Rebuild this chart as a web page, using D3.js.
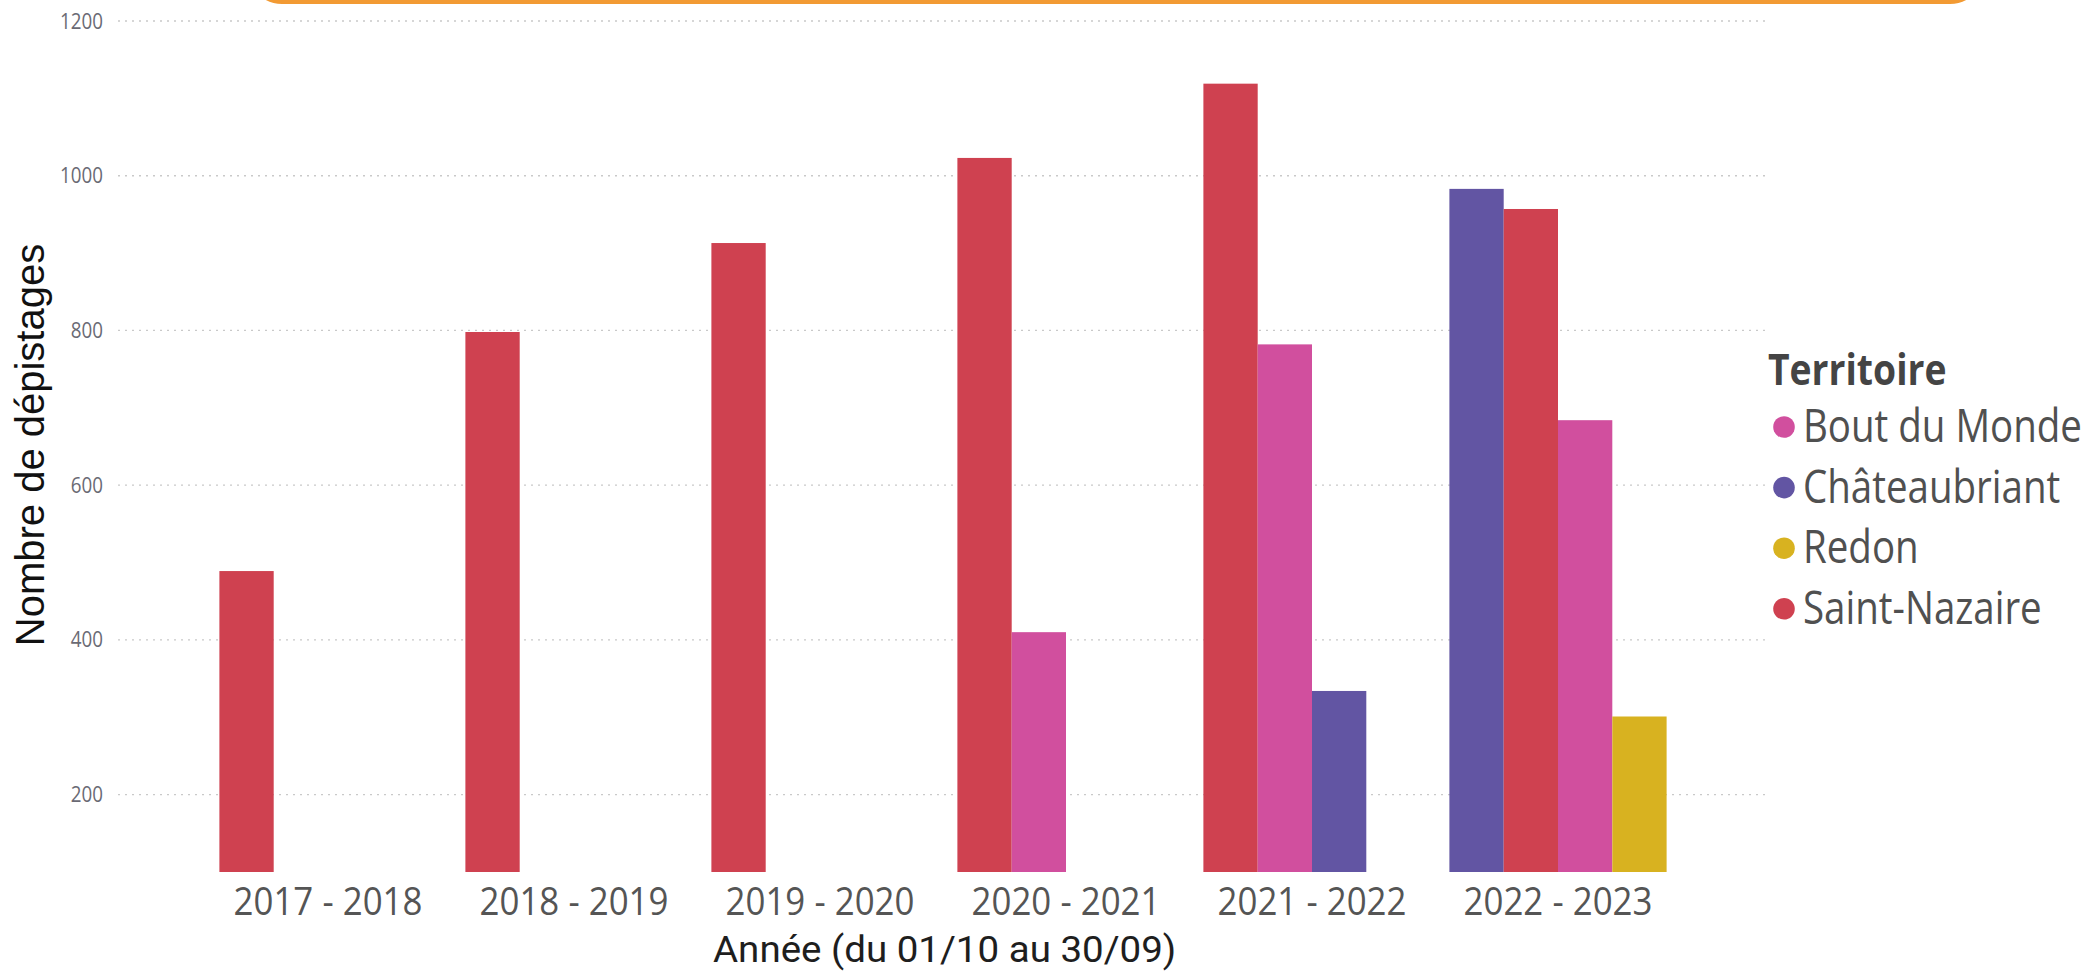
<!DOCTYPE html>
<html>
<head>
<meta charset="utf-8">
<script src="https://cdn.jsdelivr.net/npm/d3@7"></script>
<style>
    html, body { margin: 0; padding: 0; background: #fff; }
    svg { display: block; }
</style>
</head>
<body>
<svg id="chart" width="2090" height="971"></svg>
<script>
/* global d3 */

var categories = ["2017 - 2018", "2018 - 2019", "2019 - 2020", "2020 - 2021", "2021 - 2022", "2022 - 2023"];
var territories = ["Bout du Monde", "Châteaubriant", "Redon", "Saint-Nazaire"];

// nombre de dépistages par territoire (null = pas de données)
var boutDuMonde = [null, null, null, 410, 782, 684];
var chateaubriant = [null, null, null, null, 334, 983];
var redon = [null, null, null, null, null, 301];
var saintNazaire = [489, 798, 913, 1023, 1119, 957];

var yTicks = [200, 400, 600, 800, 1000, 1200];

var colors = {
    "Bout du Monde": "#d14f9e",
    "Châteaubriant": "#6255a3",
    "Redon": "#d8b220",
    "Saint-Nazaire": "#cf4150"
};

var seriesValues = {
    "Bout du Monde": boutDuMonde,
    "Châteaubriant": chateaubriant,
    "Redon": redon,
    "Saint-Nazaire": saintNazaire
};

var svg = d3.select("#chart");

// bord orange du cadre au-dessus
svg.append("rect")
    .attr("x", 250)
    .attr("y", -80)
    .attr("width", 1732)
    .attr("height", 82)
    .attr("rx", 32)
    .attr("fill", "none")
    .attr("stroke", "#f29a33")
    .attr("stroke-width", 4);

var y = d3.scaleLinear().domain([100, 1200]).range([872, 21]);

var x = d3.scaleBand()
    .domain(categories)
    .range([205, 1681])
    .paddingInner(0.117)
    .paddingOuter(0.0585);

var xSub = d3.scaleBand()
    .domain([0, 1, 2, 3])
    .range([0, x.bandwidth()]);

// grille pointillée
svg.append("g")
    .selectAll("line")
    .data(yTicks)
    .join("line")
    .attr("x1", 118)
    .attr("x2", 1768)
    .attr("y1", function (d) { return y(d); })
    .attr("y2", function (d) { return y(d); })
    .attr("stroke", "#c9c9c9")
    .attr("stroke-width", 1.3)
    .attr("stroke-dasharray", "2,5");

// barres : dans chaque année, triées par valeur décroissante
var bars = [];
categories.forEach(function (cat, i) {
    var row = territories
        .map(function (t) { return { cat: cat, terr: t, value: seriesValues[t][i] }; })
        .filter(function (d) { return d.value != null; })
        .sort(function (a, b) { return b.value - a.value; });
    row.forEach(function (d, k) {
        d.slot = k;
        bars.push(d);
    });
});

svg.append("g")
    .selectAll("rect")
    .data(bars)
    .join("rect")
    .attr("x", function (d) { return x(d.cat) + xSub(d.slot); })
    .attr("y", function (d) { return y(d.value); })
    .attr("width", xSub.bandwidth())
    .attr("height", function (d) { return y(100) - y(d.value); })
    .attr("fill", function (d) { return colors[d.terr]; });

// axe Y
var yAxis = svg.append("g")
    .attr("transform", "translate(103,0)")
    .call(d3.axisLeft(y).tickValues(yTicks).tickFormat(d3.format("d")).tickSize(0).tickPadding(0));
yAxis.select(".domain").remove();
yAxis.selectAll("text")
    .attr("x", 0)
    .attr("dy", 0)
    .attr("transform", "translate(0,7) scale(1,1.12)")
    .attr("fill", "#6a6a74")
    .style("font-family", "'Open Sans', sans-serif")
    .style("font-size", "18.8px");

// axe X
var xAxis = svg.append("g")
    .attr("transform", "translate(0,872)")
    .call(d3.axisBottom(x).tickSize(0).tickPadding(0));
xAxis.select(".domain").remove();
xAxis.selectAll("text")
    .attr("y", 0)
    .attr("dy", 0)
    .attr("transform", "translate(0,43) scale(1,1.12)")
    .attr("fill", "#555")
    .style("font-family", "'Open Sans', sans-serif")
    .style("font-size", "34.9px");

// titres des axes
svg.append("text")
    .attr("transform", "translate(44,445) rotate(-90)")
    .attr("text-anchor", "middle")
    .attr("fill", "#111")
    .style("font-family", "Arial, 'Liberation Sans', sans-serif")
    .style("font-size", "40px")
    .text("Nombre de dépistages");

svg.append("text")
    .attr("transform", "translate(713,962) scale(1.07,1)")
    .attr("fill", "#1e1e1e")
    .style("font-family", "Roboto, sans-serif")
    .style("font-size", "36px")
    .text("Année (du 01/10 au 30/09)");

// légende
var legend = svg.append("g").attr("transform", "translate(1768,0)");

legend.append("text")
    .attr("transform", "translate(0,385) scale(1,1.13)")
    .attr("fill", "#444")
    .style("font-family", "'Open Sans', sans-serif")
    .style("font-weight", "700")
    .style("font-size", "37.3px")
    .text("Territoire");

var items = legend.selectAll(".item")
    .data(territories)
    .join("g")
    .attr("class", "item")
    .attr("transform", function (d, i) { return "translate(0," + (427 + i * 60.6) + ")"; });

items.append("circle")
    .attr("cx", 16)
    .attr("cy", 0)
    .attr("r", 10.8)
    .attr("fill", function (d) { return colors[d]; });

items.append("text")
    .attr("transform", "translate(35,15) scale(1,1.19)")
    .attr("fill", "#505050")
    .style("font-family", "'Open Sans', sans-serif")
    .style("font-size", "38.5px")
    .text(function (d) { return d; });
</script>
</body>
</html>
